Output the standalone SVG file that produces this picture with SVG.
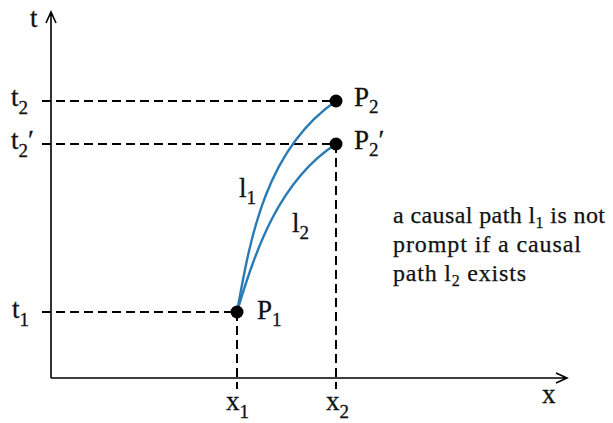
<svg xmlns="http://www.w3.org/2000/svg" width="613" height="423" viewBox="0 0 613 423">
<style>
.ax{stroke:#000;stroke-width:1.6;fill:none}
.da{stroke:#000;stroke-width:2;stroke-dasharray:9,5;fill:none}
.cv{stroke:#2a7ab5;stroke-width:2.4;fill:none}
</style>
<rect width="613" height="423" fill="#fff"/>
<g id="axes" fill="#111" stroke="#111" stroke-width="0.3">
<path class="ax" d="M51,378 V12 M46,23 L51,12 L56,23"/>
<path class="ax" d="M51,378 H567 M556,373 L567,378 L556,383"/>
<text x="30" y="27" font-family="Liberation Serif" font-size="27">t</text>
<text x="542" y="403" font-family="Liberation Serif" font-size="27">x</text>
</g>
<g id="connectors">
<path class="da" d="M42,101 H336"/>
<path class="da" d="M42,144 H336"/>
<path class="da" d="M42,312 H237"/>
<path class="da" d="M237,312 V389"/>
<path class="da" d="M336,144 V389"/>
<path id="l1" class="cv" d="M237,312 C250,240 265,150 336,101"/>
<path id="l2" class="cv" d="M237,312 C255,250 280,180 336,144"/>
</g>
<g id="labels" fill="#111" stroke="#111" stroke-width="0.3">
<text x="11" y="106" font-family="Liberation Serif" font-size="27">t<tspan font-size="19" dy="8">2</tspan></text>
<text x="11" y="149" font-family="Liberation Serif" font-size="27">t<tspan font-size="19" dy="8">2</tspan><tspan dy="-8">′</tspan></text>
<text x="12" y="318" font-family="Liberation Serif" font-size="27">t<tspan font-size="19" dy="8">1</tspan></text>
<text x="226" y="410" font-family="Liberation Serif" font-size="27">x<tspan font-size="19" dy="8">1</tspan></text>
<text x="326" y="410" font-family="Liberation Serif" font-size="27">x<tspan font-size="19" dy="8">2</tspan></text>
<text x="239" y="197" font-family="Liberation Serif" font-size="27">l<tspan font-size="19" dy="7">1</tspan></text>
<text x="292" y="232" font-family="Liberation Serif" font-size="27">l<tspan font-size="19" dy="7">2</tspan></text>
</g>
<g id="P2"><circle cx="336" cy="101" r="6.5" fill="#000"/><text x="354" y="106" font-family="Liberation Serif" font-size="27" fill="#111" stroke="#111" stroke-width="0.3">P<tspan font-size="19" dy="7">2</tspan></text></g>
<g id="P2p"><circle cx="336" cy="144" r="6.5" fill="#000"/><text x="354" y="149" font-family="Liberation Serif" font-size="27" fill="#111" stroke="#111" stroke-width="0.3">P<tspan font-size="19" dy="7">2</tspan><tspan dy="-7">′</tspan></text></g>
<g id="P1"><circle cx="237" cy="312" r="6.5" fill="#000"/><text x="257" y="319" font-family="Liberation Serif" font-size="27" fill="#111" stroke="#111" stroke-width="0.3">P<tspan font-size="19" dy="7">1</tspan></text></g>
<g id="note" fill="#111" stroke="#111" stroke-width="0.25">
<text x="393" y="223" font-family="Liberation Serif" font-size="24" textLength="212" lengthAdjust="spacing">a causal path l<tspan font-size="16" dy="5">1</tspan><tspan dy="-5"> is not</tspan></text>
<text x="393" y="252" font-family="Liberation Serif" font-size="24" textLength="188" lengthAdjust="spacing">prompt if a causal</text>
<text x="393" y="281" font-family="Liberation Serif" font-size="24" textLength="133" lengthAdjust="spacing">path l<tspan font-size="16" dy="5">2</tspan><tspan dy="-5"> exists</tspan></text>
</g>
</svg>
